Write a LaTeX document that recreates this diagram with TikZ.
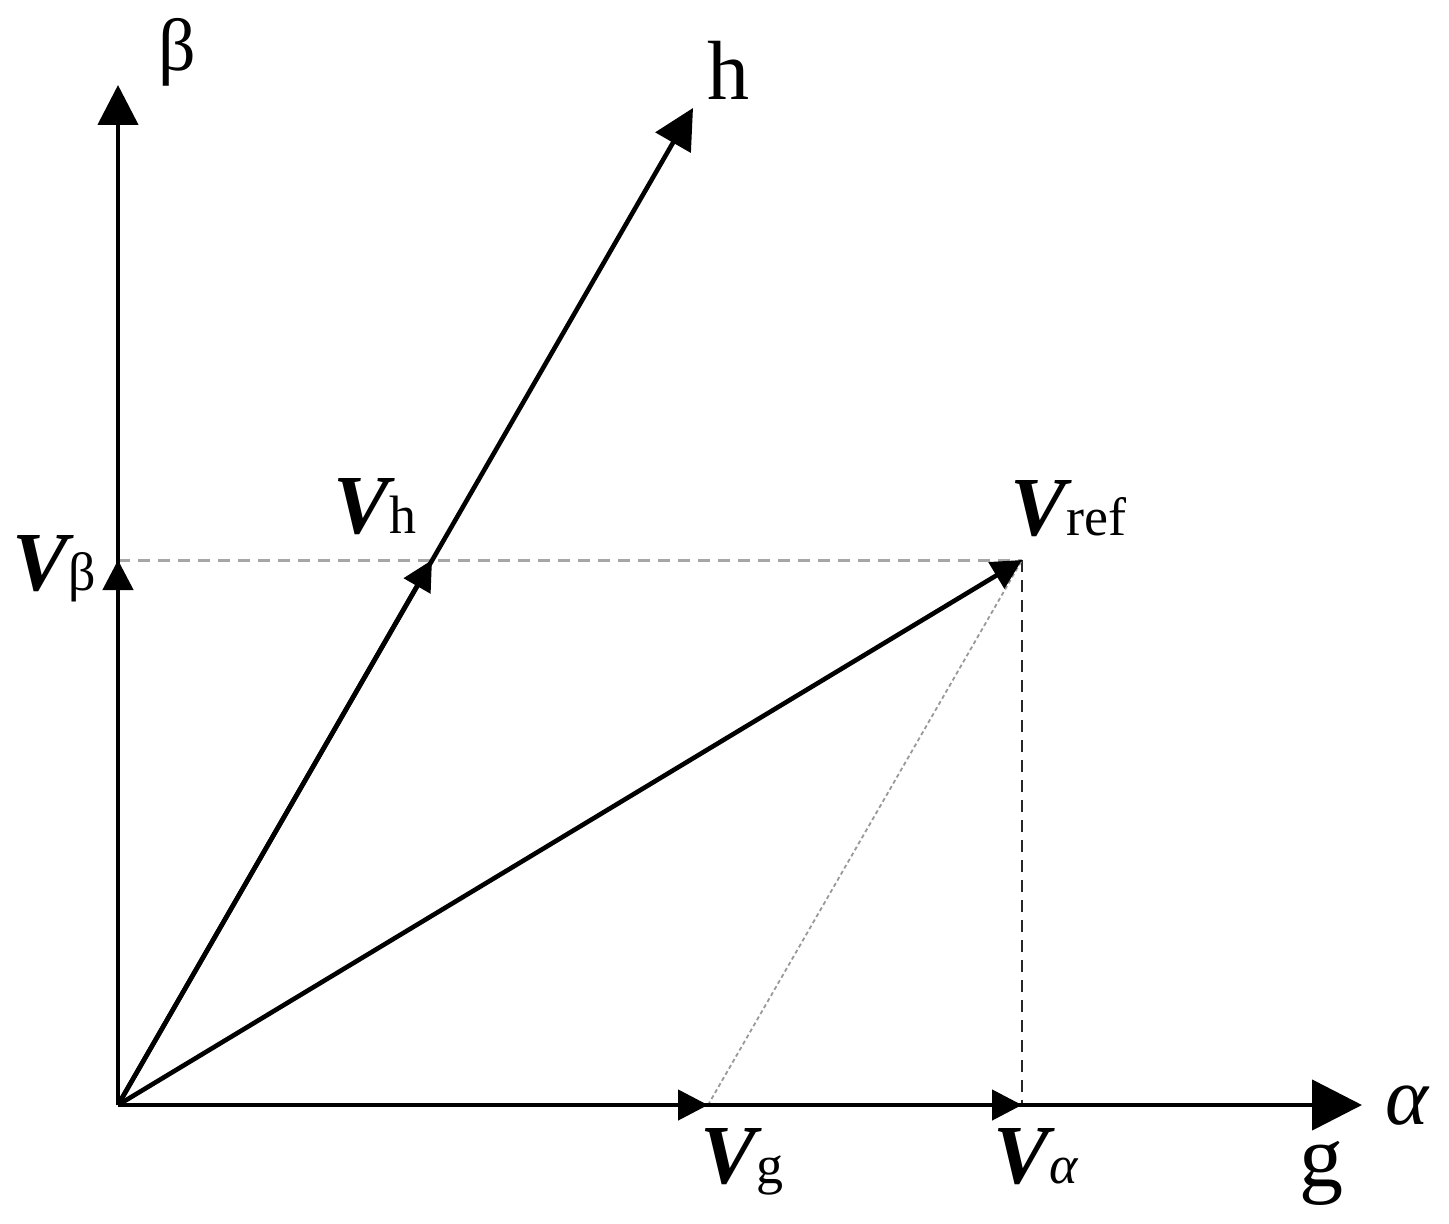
\documentclass[tikz,border=0pt]{standalone}
\usepackage{fontspec}
\setmainfont{Liberation Serif}
\usetikzlibrary{arrows.meta}
\newcommand{\bigV}{{\fontsize{42}{42}\selectfont\bfseries\itshape V}}
\newcommand{\subtxt}[1]{{\fontsize{27}{27}\selectfont #1}}
\begin{document}
\begin{tikzpicture}[x=0.5pt,y=-0.5pt,
  vec/.style={line width=2.3pt},
  bigtip/.style={-{Triangle[length=20pt,width=20pt]}},
  alphatip/.style={-{Triangle[length=25pt,width=25pt]}},
  smalltip/.style={-{Triangle[length=15pt,width=15pt]}},
  lbl/.style={inner sep=0pt, anchor=base west},
  axlbl/.style={inner sep=0pt}]
\useasboundingbox (0,0) rectangle (1449,1224);
\fill[white] (0,0) rectangle (1449,1224);
% points
\coordinate (O) at (118,1105);
\coordinate (Btop) at (118,85);
\coordinate (Atip) at (1362,1105);
\coordinate (Htip) at (693,108);
\coordinate (Vref) at (1022,560);
\coordinate (Vb) at (118,560);
\coordinate (Vh) at (432,560);
\coordinate (Vg) at (708,1105);
\coordinate (Va) at (1022,1105);
% helper lines
\draw[gray!70, line width=1.5pt, dash pattern=on 6pt off 4pt] (Vb) -- (Vref);
\draw[black!85, line width=0.9pt, dash pattern=on 6pt off 4pt] (Vref) -- (Va);
\draw[gray!80, line width=0.9pt, dash pattern=on 2pt off 1.5pt] (Vg) -- (Vref);
% axes
\draw[vec, bigtip] (O) -- (Btop);
\draw[vec, alphatip] (O) -- (Atip);
\draw[vec, bigtip] (O) -- (Htip);
% component vectors
\draw[vec, smalltip] (O) -- (Vb);
\draw[vec, smalltip] (O) -- (Vh);
\draw[vec, smalltip] (O) -- (Vg);
\draw[vec, smalltip] (O) -- (Va);
\draw[vec, smalltip] (O) -- (Vref);
% axis labels
\node[axlbl] (lbeta) at (177,52) {\fontsize{37}{37}\selectfont β};
\node[axlbl, anchor=base west] (lh) at (707,100) {\fontsize{42}{42}\selectfont h};
\node[axlbl, anchor=base west] (lalpha) at (1385,1124) {\fontsize{41}{41}\selectfont\itshape α};
\node[axlbl, anchor=base west] (lg) at (1299,1186) {\fontsize{44}{44}\selectfont g};
% vector labels
\node[lbl] (lVb) at (12,590) {\bigV\subtxt{β}};
\node[lbl] (lVh) at (333,533) {\bigV\subtxt{h}};
\node[lbl] (lVref) at (1010,535) {\bigV\subtxt{ref}};
\node[lbl] (lVg) at (700,1183) {\bigV\subtxt{g}};
\node[lbl] (lVa) at (993,1183) {\bigV\subtxt{\itshape α}};
\end{tikzpicture}
\end{document}
